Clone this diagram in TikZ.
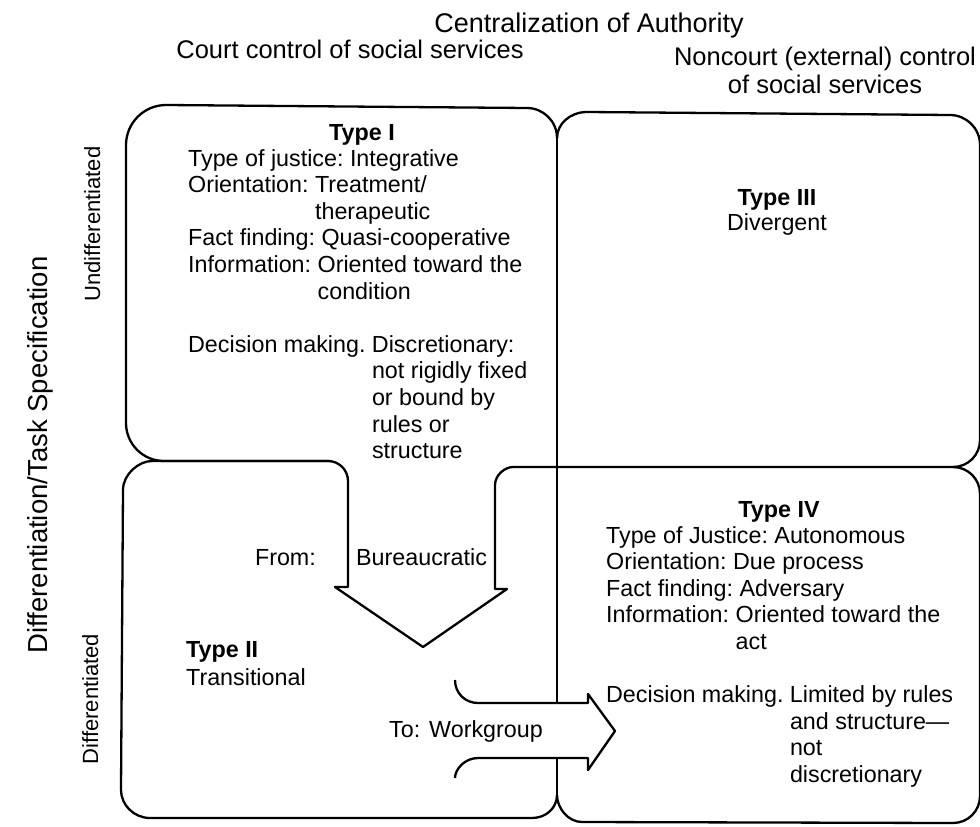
\documentclass[tikz,border=0pt]{standalone}
\usepackage{fontspec}
\setmainfont{Liberation Sans}
\frenchspacing
\newcommand{\bodysize}{\fontsize{23.3}{26.6}\selectfont\frenchspacing}
\newcommand{\headsize}{\fontsize{25.5}{28}\selectfont}
\newcommand{\axissize}{\fontsize{27.5}{30}\selectfont}
\newcommand{\sidesize}{\fontsize{22}{24}\selectfont}

\begin{document}
\begin{tikzpicture}[x = 1pt, y = -1pt, line width = 2.3pt, line join = round]
	\tikzstyle{blockStyle} = [anchor = north west, inner sep = 0pt, align = left, font = \bodysize]
	\tikzstyle{typeStyle} = [anchor = base, inner sep = 0pt, font = \bodysize\bfseries]
	\tikzstyle{textStyle} = [anchor = base, inner sep = 0pt, font = \bodysize]
	\tikzstyle{headStyle} = [anchor = base, inner sep = 0pt, font = \headsize]
	\tikzstyle{sideStyle} = [anchor = base, inner sep = 0pt, rotate = 90, font = \sidesize]
	\useasboundingbox (0,0) rectangle (980,827);
	% headings
	\node[headStyle, font = \fontsize{27}{30}\selectfont] (central) at (589,32) {Centralization of Authority};
	\node[headStyle] (court) at (350,58) {Court control of social services};
	\node[headStyle] (noncourt) at (825,65) {Noncourt (external) control};
	\node[headStyle] (noncourt2) at (825,93) {of social services};
	\node[sideStyle, font = \axissize] (task) at (47,455) {Differentiation/Task Specification};
	\node[sideStyle] (undiff) at (100,224) {Undifferentiated};
	\node[sideStyle] (diff) at (98,699) {Differentiated};
	% boxes
	\draw (330,461) -- (164,461) .. controls (143,461) and (126,444) .. (126,423) -- (126,145)
		.. controls (126,123) and (144,105) .. (166,105) -- (527,108)
		.. controls (543,108) and (557,121) .. (557,138);
	\draw (557,138) .. controls (557,124) and (570,112) .. (587,112) -- (950,115)
		.. controls (966,115) and (980,128) .. (980,145) -- (980,440)
		.. controls (980,455) and (968,467) .. (953,467);
	\draw (557,138) -- (557,795);
	\draw (557,795) .. controls (557,808) and (546,818) .. (532,818) -- (150,818)
		.. controls (134,818) and (121,805) .. (121,790) -- (123,490)
		.. controls (123,474) and (139,461) .. (152,461) -- (328,461)
		.. controls (339,461) and (348,470) .. (348,481)
		-- (348,587) -- (335,587) -- (423,647) -- (507,589) -- (495,589) -- (495,485)
		.. controls (495,475) and (505,467) .. (513,467) -- (953,467)
		.. controls (968,467) and (980,479) .. (980,494) -- (980,796)
		.. controls (980,811) and (968,823) .. (953,823) -- (582,822)
		.. controls (568,822) and (557,808) .. (557,795);
	% workgroup arrow
	\draw[fill = white] (455,680) .. controls (455,693) and (465,703) .. (478,703) -- (588,703) -- (588,694)
		-- (615,731) -- (588,770) -- (588,758) -- (478,758) .. controls (465,758) and (455,769) .. (455,778);
	% Type I
	\node[typeStyle] (t1) at (362,140) {Type I};
	\node[blockStyle] (b1) at (187,148) {Type of justice: Integrative\\
		Orientation: Treatment/\\
		\hphantom{Orientation: }therapeutic\\
		Fact finding: Quasi-cooperative\\
		Information: Oriented toward the\\
		\hphantom{Information: }condition\\[26.6pt]
		Decision making. Discretionary:\\
		\hphantom{Decision making. }not rigidly fixed\\
		\hphantom{Decision making. }or bound by\\
		\hphantom{Decision making. }rules or\\
		\hphantom{Decision making. }structure};
	% Type III
	\node[typeStyle] (t3) at (777,205) {Type III};
	\node[textStyle] (t3b) at (777,230) {Divergent};
	% Type II
	\node[typeStyle, anchor = base west] (t2) at (185,657) {Type II};
	\node[textStyle, anchor = base west] (t2b) at (185,685) {Transitional};
	\node[textStyle, anchor = base east] (from) at (317,565) {From:};
	\node[textStyle, anchor = base west] (bureau) at (355,565) {Bureaucratic};
	\node[textStyle, anchor = base west] (to) at (388,737) {To:\hspace{9pt}Workgroup};
	% Type IV
	\node[typeStyle] (t4) at (779,517) {Type IV};
	\node[blockStyle] (b4) at (605,525) {Type of Justice: Autonomous\\
		Orientation: Due process\\
		Fact finding: Adversary\\
		Information: Oriented toward the\\
		\hphantom{Information: }act\\[26.6pt]
		Decision making. Limited by rules\\
		\hphantom{Decision making. }and structure---\\
		\hphantom{Decision making. }not\\
		\hphantom{Decision making. }discretionary};
\end{tikzpicture}
\end{document}
